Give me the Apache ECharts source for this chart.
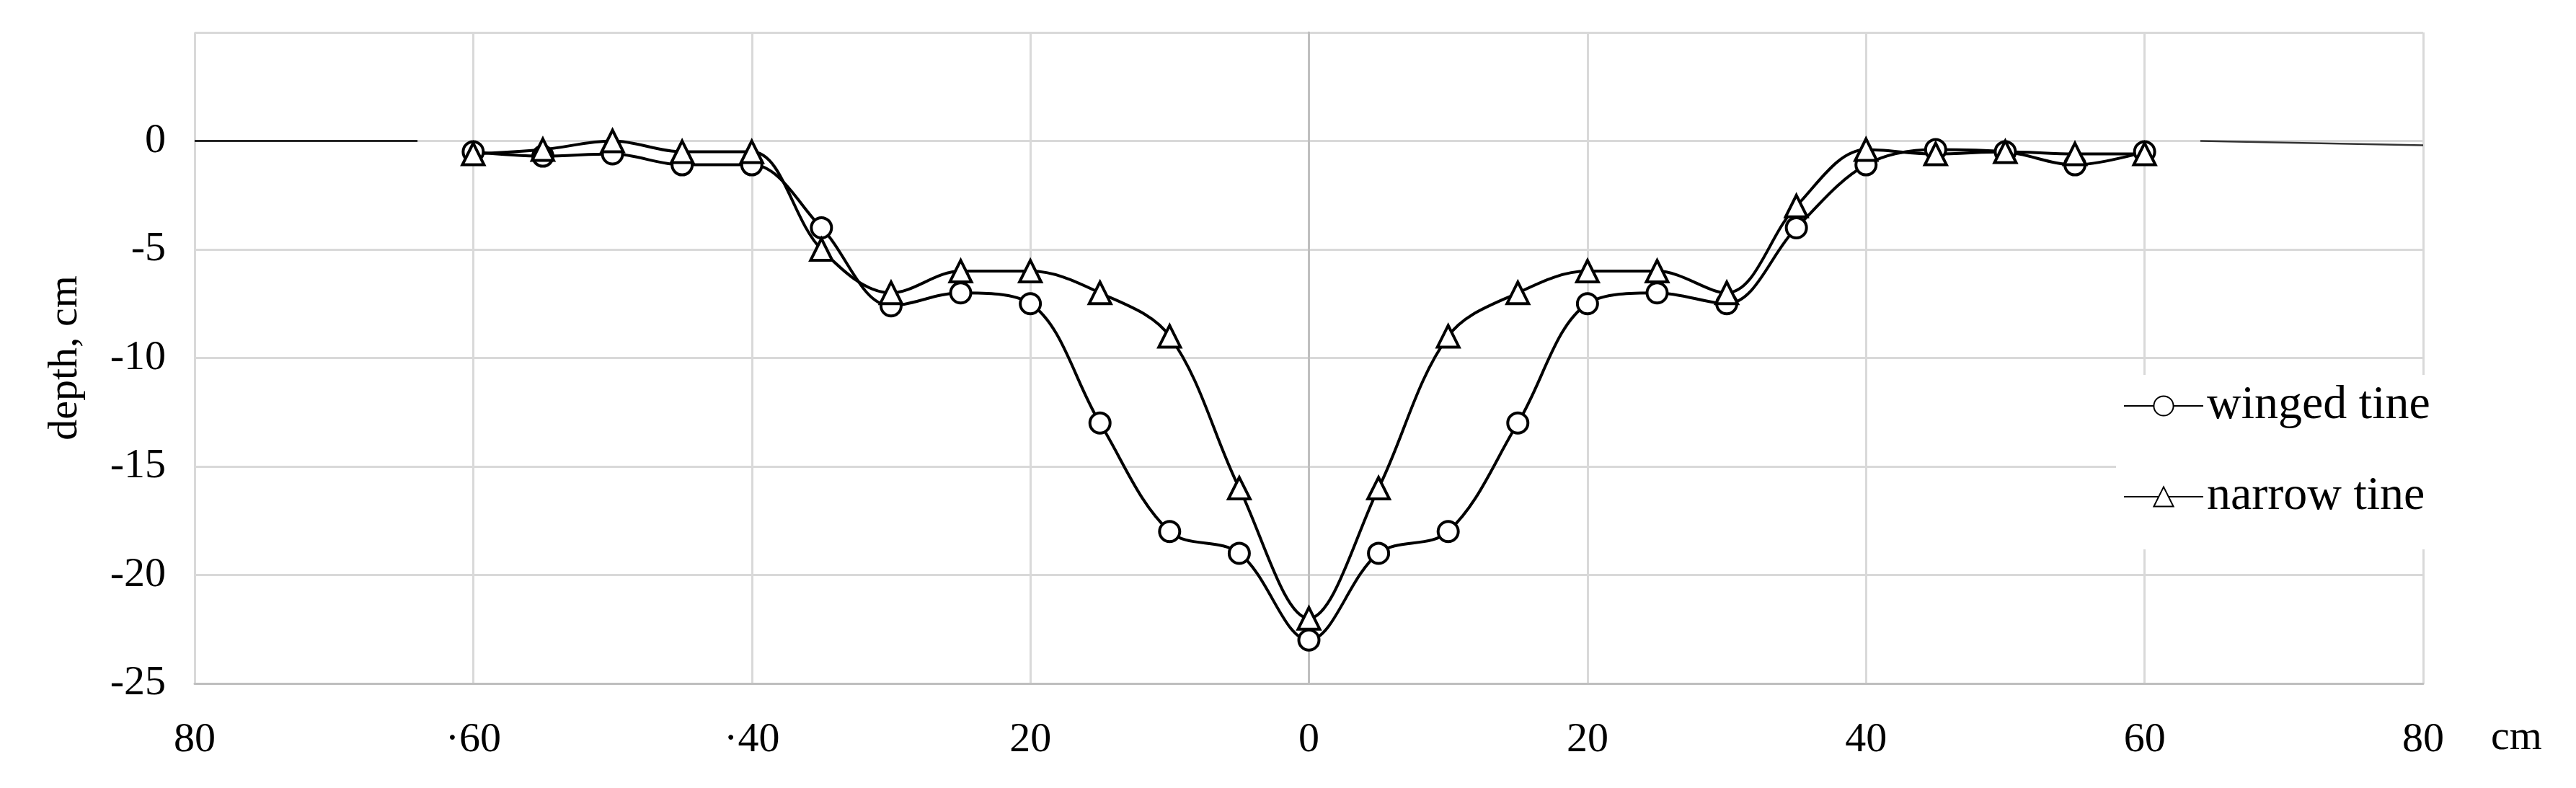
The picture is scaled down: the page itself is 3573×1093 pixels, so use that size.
<!DOCTYPE html>
<html><head><meta charset="utf-8">
<script src="https://cdn.jsdelivr.net/npm/echarts@6/dist/echarts.min.js"></script>
<style>html,body{margin:0;padding:0;background:#fff}#c{width:3573px;height:1093px}</style>
</head><body><div id="c"></div>
<script>
const xs = [-60,-55,-50,-45,-40,-35,-30,-25,-20,-15,-10,-5,0,5,10,15,20,25,30,35,40,45,50,55,60];
const winged = [-0.5,-0.7,-0.6,-1.1,-1.1,-4,-7.6,-7,-7.5,-13,-18,-19,-23,-19,-18,-13,-7.5,-7,-7.5,-4,-1.1,-0.4,-0.5,-1.1,-0.5];
const narrow = [-0.6,-0.4,0,-0.5,-0.5,-5,-7,-6,-6,-7,-9,-16,-22,-16,-9,-7,-6,-6,-7,-3,-0.4,-0.6,-0.5,-0.6,-0.6];
const leftRef = [[-80,0],[-64,0]];
const rightRef = [[64,0],[80,-0.2]];
const xTickLabels = {'-80':'80','-60':'·60','-40':'·40','-20':'20','0':'0','20':'20','40':'40','60':'60','80':'80'};
const yTickLabels = {'0':'0','-5':'-5','-10':'-10','-15':'-15','-20':'-20','-25':'-25'};
const font = 'Liberation Serif';
const ch = echarts.init(document.getElementById('c'));
const pts = a => xs.map((x,i)=>[x,a[i]]);
ch.setOption({
  animation:false,
  textStyle:{fontFamily:font},
  grid:{left:270,right:212,top:45,bottom:145},
  xAxis:{type:'value',min:-80,max:80,interval:20,
    axisLine:{show:true,onZero:false,lineStyle:{color:'#bfbfbf',width:3}},
    axisTick:{show:false},
    splitLine:{show:true,lineStyle:{color:'#d9d9d9',width:3}},
    axisLabel:{fontFamily:font,fontSize:58,color:'#000',margin:50,formatter:v=>xTickLabels[String(v)]??''}},
  yAxis:{type:'value',min:-25,max:5,interval:5,
    name:'depth, cm',nameLocation:'middle',nameGap:150,nameRotate:90,
    nameTextStyle:{fontFamily:font,fontSize:58,color:'#000'},
    axisLine:{show:true,lineStyle:{color:'#bfbfbf',width:3}},
    axisTick:{show:false},
    splitLine:{show:true,lineStyle:{color:'#d9d9d9',width:3}},
    axisLabel:{fontFamily:font,fontSize:58,color:'#000',margin:40,formatter:v=>yTickLabels[String(v)]??''}},
  legend:{orient:'vertical',left:2935,top:520,itemWidth:110,itemHeight:34,itemGap:60,
    backgroundColor:'#fff',padding:[10,60,40,10],
    data:['winged tine','narrow tine'],
    textStyle:{fontFamily:font,fontSize:66,color:'#000'}},
  graphic:[{type:'text',left:3455,top:995,style:{text:'cm',font:'58px "Liberation Serif"',fill:'#000'}}],
  series:[
    {name:'ref1',type:'line',data:leftRef,showSymbol:false,lineStyle:{color:'#000',width:2.5},silent:true},
    {name:'ref2',type:'line',data:rightRef,showSymbol:false,lineStyle:{color:'#333',width:2.5},silent:true},
    {name:'winged tine',type:'line',data:pts(winged),smooth:0.35,symbol:'circle',symbolSize:28,
     lineStyle:{color:'#000',width:4},itemStyle:{color:'#fff',borderColor:'#000',borderWidth:4}},
    {name:'narrow tine',type:'line',data:pts(narrow),smooth:0.35,symbol:'triangle',symbolSize:30,
     lineStyle:{color:'#000',width:4},itemStyle:{color:'#fff',borderColor:'#000',borderWidth:4}}
  ]
});
</script></body></html>
